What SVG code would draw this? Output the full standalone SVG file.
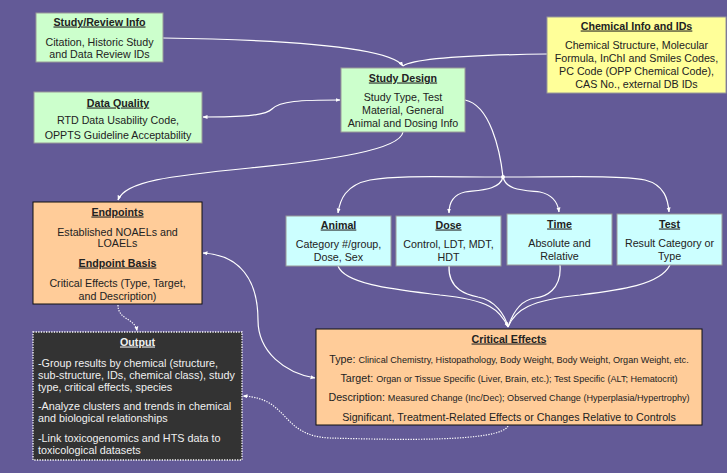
<svg xmlns="http://www.w3.org/2000/svg" width="727" height="473" viewBox="0 0 727 473">
<defs>
<marker id="ah" viewBox="0 0 10 10" refX="9" refY="5" markerWidth="5" markerHeight="5" orient="auto-start-reverse" markerUnits="userSpaceOnUse">
<path d="M0,1 L10,5 L0,9 z" fill="#ffffff"/>
</marker>
<style>
text{font-family:"Liberation Sans",Arial,sans-serif;font-size:10.7px;fill:#222;text-anchor:middle}
.t{font-weight:bold;text-decoration:underline}
.g{fill:#ccffcc;stroke:#999999;stroke-width:1}
.y{fill:#ffff99;stroke:#999999;stroke-width:1}
.c{fill:#ccffff;stroke:#999999;stroke-width:1}
.o{fill:#ffcc99;stroke:#111111;stroke-width:1}
.k{fill:#333333;stroke:#ffffff;stroke-width:1.3;stroke-dasharray:1.3 1.3}
.w text{fill:#f0f0f0;text-anchor:start;font-size:10.8px}
.w text.t{text-anchor:middle;font-size:10.7px}
.s{font-size:9.1px}
#connectors path{fill:none;stroke:#ffffff;stroke-width:1.2}
#connectors path.d{stroke-dasharray:1.3 1.3}
</style>
</defs>
<rect width="727" height="473" fill="#635a97"/>

<g id="connectors">
<path d="M163,38 C300,40 390,48 403,66" marker-end="url(#ah)"/>
<path d="M547,54 C470,55 415,58 403,66"/>
<path d="M203,117 C240,117 265,116 272,109 C280,101 300,100 340,100" marker-start="url(#ah)" marker-end="url(#ah)"/>
<path d="M403,132 C400,150 330,160 250,168 C170,176 125,181 118,200" marker-end="url(#ah)"/>
<path d="M465,100 C490,105 500,150 503,177"/>
<circle cx="503" cy="177" r="2" fill="#ffffff"/>
<path d="M503,177 C440,177 400,175 370,180 C345,185 340,200 338,213" marker-end="url(#ah)"/>
<path d="M503,177 C500,190 480,190 465,192 C452,195 449,205 449,213" marker-end="url(#ah)"/>
<path d="M503,177 C506,190 522,190 540,192 C554,195 558,204 559,212" marker-end="url(#ah)"/>
<path d="M503,177 C560,177 620,175 645,180 C665,185 668,200 669,212" marker-end="url(#ah)"/>
<path d="M338,266 C345,285 400,290 440,295 C490,300 500,310 508,327" marker-end="url(#ah)"/>
<path d="M449,266 C448,290 468,295 478,297 C495,300 505,315 508,327"/>
<path d="M560,265 C562,290 545,297 535,298 C520,300 512,315 508,327"/>
<path d="M670,265 C660,285 620,290 580,295 C530,300 515,310 508,327"/>
<path d="M203,253 C240,255 258,280 258,320 C258,352 285,373 315,378" marker-start="url(#ah)" marker-end="url(#ah)"/>
<path class="d" d="M118,305 C118,320 135,318 137,331" marker-end="url(#ah)"/>
<path class="d" d="M508,426 C500,442 400,440 330,438 C280,436 290,398 243,396" marker-end="url(#ah)"/>
</g>

<g id="study-review">
<rect class="g" x="36" y="13" width="127" height="49"/>
<text class="t" x="99.5" y="25.5">Study/Review Info</text>
<text x="99.5" y="45.5">Citation, Historic Study</text>
<text x="99.5" y="57.5">and Data Review IDs</text>
</g>

<g id="chemical-info">
<rect class="y" x="547" y="17" width="179" height="76"/>
<text class="t" x="636.5" y="29.5">Chemical Info and IDs</text>
<text x="636.5" y="49">Chemical Structure, Molecular</text>
<text x="636.5" y="62">Formula, InChI and Smiles Codes,</text>
<text x="636.5" y="75">PC Code (OPP Chemical Code),</text>
<text x="636.5" y="88">CAS No., external DB IDs</text>
</g>

<g id="study-design">
<rect class="g" x="341" y="68" width="124" height="64"/>
<text class="t" x="403" y="81.5">Study Design</text>
<text x="403" y="101">Study Type, Test</text>
<text x="403" y="114">Material, General</text>
<text x="403" y="126.5">Animal and Dosing Info</text>
</g>

<g id="data-quality">
<rect class="g" x="34" y="92" width="168" height="51"/>
<text class="t" x="118" y="106.5">Data Quality</text>
<text x="118" y="124">RTD Data Usability Code,</text>
<text x="118" y="138.5">OPPTS Guideline Acceptability</text>
</g>

<g id="endpoints">
<rect class="o" x="33" y="202" width="169" height="102"/>
<text class="t" x="117.5" y="215.5">Endpoints</text>
<text x="117.5" y="235.5">Established NOAELs and</text>
<text x="117.5" y="247">LOAELs</text>
<text class="t" x="117.5" y="266.5">Endpoint Basis</text>
<text x="117.5" y="286.5">Critical Effects (Type, Target,</text>
<text x="117.5" y="299.5">and Description)</text>
</g>

<g id="animal">
<rect class="c" x="286" y="216" width="105" height="50"/>
<text class="t" x="338.5" y="228.5">Animal</text>
<text x="338.5" y="247.5">Category #/group,</text>
<text x="338.5" y="260.5">Dose, Sex</text>
</g>

<g id="dose">
<rect class="c" x="396" y="216" width="105" height="50"/>
<text class="t" x="448.5" y="228.5">Dose</text>
<text x="448.5" y="247.5">Control, LDT, MDT,</text>
<text x="448.5" y="260.5">HDT</text>
</g>

<g id="time">
<rect class="c" x="507" y="214" width="105" height="51"/>
<text class="t" x="559.5" y="227.5">Time</text>
<text x="559.5" y="246.5">Absolute and</text>
<text x="559.5" y="259.5">Relative</text>
</g>

<g id="test">
<rect class="c" x="617" y="214" width="105" height="51"/>
<text class="t" x="669.5" y="227.5">Test</text>
<text x="669.5" y="246.5">Result Category or</text>
<text x="669.5" y="259.5">Type</text>
</g>

<g id="critical-effects">
<rect class="o" x="316" y="329" width="386" height="96"/>
<text class="t" x="509" y="342.5">Critical Effects</text>
<text x="509" y="362.5">Type: <tspan class="s">Clinical Chemistry, Histopathology, Body Weight, Body Weight, Organ Weight, etc.</tspan></text>
<text x="509" y="381.5">Target: <tspan class="s">Organ or Tissue Specific (Liver, Brain, etc.); Test Specific (ALT; Hematocrit)</tspan></text>
<text x="509" y="400.5">Description: <tspan class="s">Measured Change (Inc/Dec); Observed Change (Hyperplasia/Hypertrophy)</tspan></text>
<text x="509" y="420.5">Significant, Treatment-Related Effects or Changes Relative to Controls</text>
</g>

<g id="output" class="w">
<rect class="k" x="33" y="332" width="209" height="128"/>
<text class="t" x="137.5" y="345.5">Output</text>
<text x="38" y="366.5">-Group results by chemical (structure,</text>
<text x="38" y="378.5">sub-structure, IDs, chemical class), study</text>
<text x="38" y="390.5">type, critical effects, species</text>
<text x="38" y="409.5">-Analyze clusters and trends in chemical</text>
<text x="38" y="421.5">and biological relationships</text>
<text x="38" y="441.5">-Link toxicogenomics and HTS data to</text>
<text x="38" y="453.5">toxicological datasets</text>
</g>
</svg>
